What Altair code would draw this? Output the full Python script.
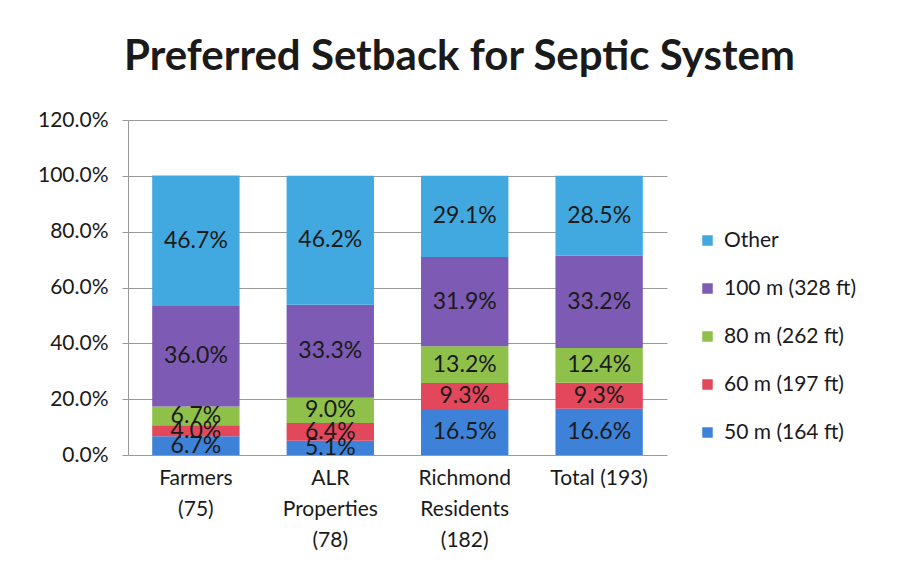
import altair as alt
import pandas as pd

categories = ["Farmers\n(75)", "ALR\nProperties\n(78)", "Richmond\nResidents\n(182)", "Total (193)"]
series = ["50 m (164 ft)", "60 m (197 ft)", "80 m (262 ft)", "100 m (328 ft)", "Other"]
legend_order = ["Other", "100 m (328 ft)", "80 m (262 ft)", "60 m (197 ft)", "50 m (164 ft)"]
colors = ["#41a8e0", "#7d5ab3", "#8fc04a", "#e2475c", "#3d82d8"]

v50 = [6.7, 5.1, 16.5, 16.6]
v60 = [4.0, 6.4, 9.3, 9.3]
v80 = [6.7, 9.0, 13.2, 12.4]
v100 = [36.0, 33.3, 31.9, 33.2]
other = [46.7, 46.2, 29.1, 28.5]

rows = []
for s_idx, (s, vals) in enumerate(zip(series, [v50, v60, v80, v100, other])):
    for c, v in zip(categories, vals):
        rows.append({"cat": c, "series": s, "order": s_idx, "pct": v})
df = pd.DataFrame(rows)

FONT = "Lato"

base = alt.Chart(df).transform_calculate(
    frac="datum.pct / 100"
).transform_stack(
    stack="frac", groupby=["cat"], as_=["y0", "y1"], sort=[alt.SortField("order", "ascending")]
).transform_calculate(
    ymid="(datum.y0 + datum.y1) / 2",
    label="format(datum.pct, '.1f') + '%'"
)

x_axis = alt.Axis(labelExpr="split(datum.label, '\\n')", labelAngle=0,
                  labelFont=FONT, labelFontSize=21, labelColor="#1a1a1a",
                  labelLineHeight=31, labelPadding=12, ticks=False, grid=False,
                  domain=False, labelBaseline="top")
y_axis = alt.Axis(format=".1%", values=[0, 0.2, 0.4, 0.6, 0.8, 1.0, 1.2],
                  labelFont=FONT, labelFontSize=21, labelColor="#1a1a1a",
                  labelPadding=14, tickSize=6, tickColor="#999",
                  domainColor="#999", gridColor="#9a9a9a", gridWidth=1)

x_scale = alt.Scale(paddingInner=0.35, paddingOuter=0.18)
y_scale = alt.Scale(domain=[0, 1.2])

bars = base.mark_bar().encode(
    x=alt.X("cat:N", sort=categories, title=None, scale=x_scale, axis=x_axis),
    y=alt.Y("y0:Q", title=None, scale=y_scale, axis=y_axis),
    y2="y1:Q",
    color=alt.Color("series:N",
                    scale=alt.Scale(domain=legend_order, range=colors),
                    legend=alt.Legend(title=None, orient="none", legendX=569, legendY=110,
                                      symbolType="square", symbolSize=110, symbolStrokeWidth=0,
                                      labelFont=FONT, labelFontSize=21, labelColor="#1a1a1a",
                                      rowPadding=26, labelOffset=6)),
)

texts = base.mark_text(font=FONT, fontSize=23, color="#1a1a1a", baseline="middle").encode(
    x=alt.X("cat:N", sort=categories, title=None, scale=x_scale, axis=None),
    y=alt.Y("ymid:Q", title=None, scale=y_scale, axis=None),
    text="label:N",
)

chart = alt.layer(bars, texts).resolve_axis(x="independent", y="independent").properties(
    width=539, height=335,
    autosize=alt.AutoSizeParams(type="none"),
    padding={"left": 120, "top": 112, "right": 225, "bottom": 110},
    background="white",
    title=alt.Title("Preferred Setback for Septic System", font=FONT, fontSize=42,
                    fontWeight="bold", color="#1a1a1a", anchor="middle", dx=62, offset=30),
).configure_view(strokeWidth=0).configure_axisBand(grid=False)

chart.save("out.html", embed_options={"renderer": "svg", "actions": False})
